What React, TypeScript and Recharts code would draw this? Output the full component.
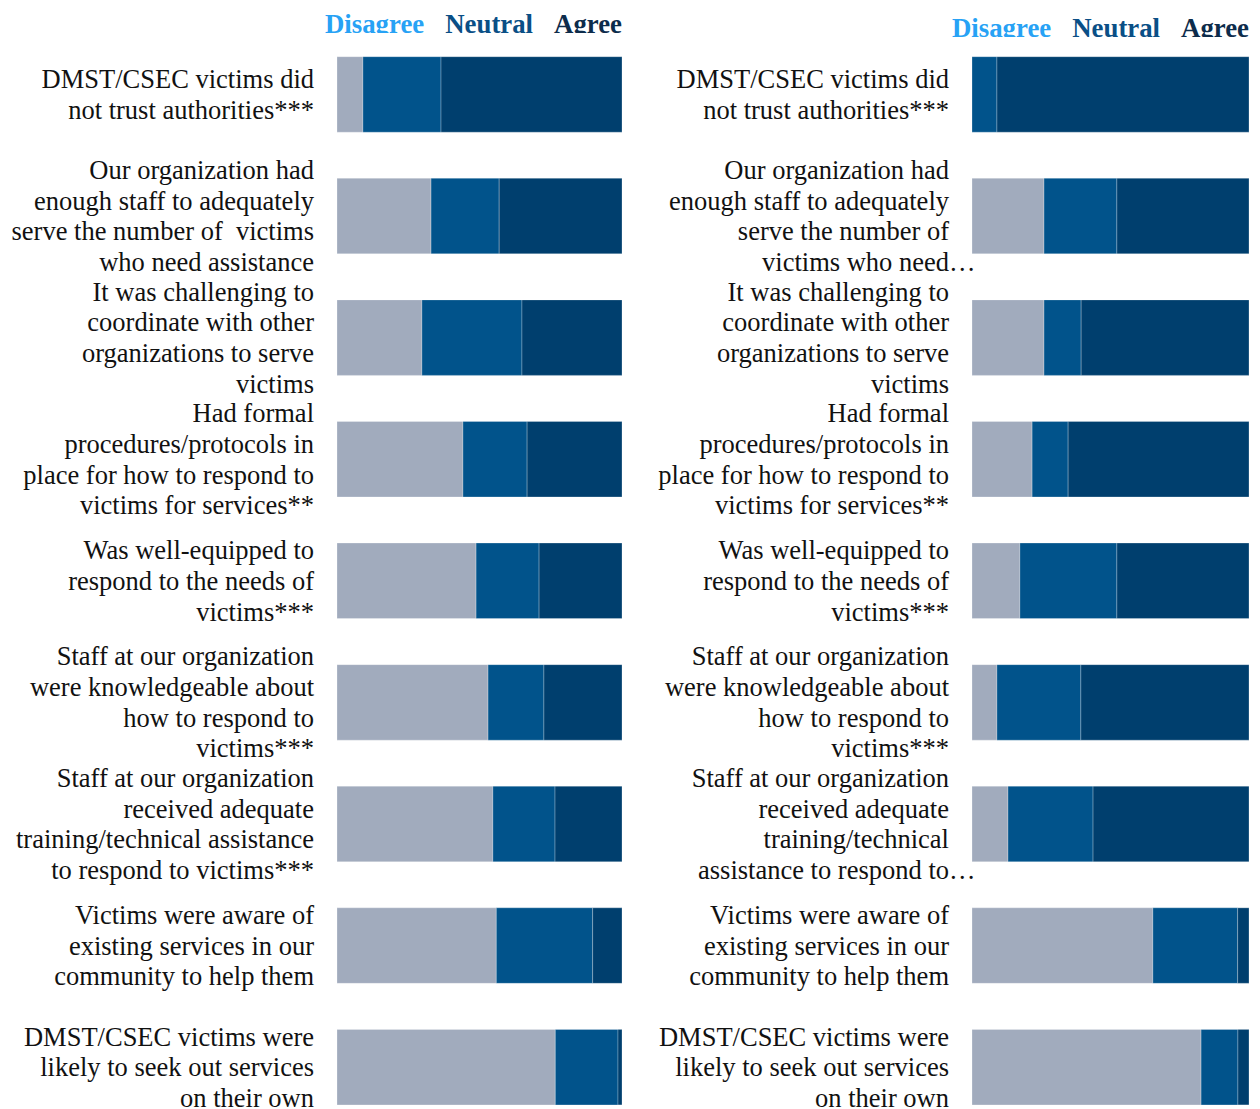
import React from "react";
import { BarChart, Bar, XAxis, YAxis } from "recharts";

// survey statements, one entry per bar; "\n" marks the line breaks of the original labels
const leftLabels = [
  "DMST/CSEC victims did\nnot trust authorities***",
  "Our organization had\nenough staff to adequately\nserve the number of  victims\nwho need assistance",
  "It was challenging to\ncoordinate with other\norganizations to serve\nvictims",
  "Had formal\nprocedures/protocols in\nplace for how to respond to\nvictims for services**",
  "Was well-equipped to\nrespond to the needs of\nvictims***",
  "Staff at our organization\nwere knowledgeable about\nhow to respond to\nvictims***",
  "Staff at our organization\nreceived adequate\ntraining/technical assistance\nto respond to victims***",
  "Victims were aware of\nexisting services in our\ncommunity to help them",
  "DMST/CSEC victims were\nlikely to seek out services\non their own",
];

const rightLabels = [
  "DMST/CSEC victims did\nnot trust authorities***",
  "Our organization had\nenough staff to adequately\nserve the number of\nvictims who need…",
  "It was challenging to\ncoordinate with other\norganizations to serve\nvictims",
  "Had formal\nprocedures/protocols in\nplace for how to respond to\nvictims for services**",
  "Was well-equipped to\nrespond to the needs of\nvictims***",
  "Staff at our organization\nwere knowledgeable about\nhow to respond to\nvictims***",
  "Staff at our organization\nreceived adequate\ntraining/technical\nassistance to respond to…",
  "Victims were aware of\nexisting services in our\ncommunity to help them",
  "DMST/CSEC victims were\nlikely to seek out services\non their own",
];

// percentages
const leftDisagree = [9.1, 33.0, 29.8, 44.2, 48.8, 53.0, 54.7, 55.9, 76.6];
const leftNeutral = [27.4, 23.9, 35.1, 22.5, 22.1, 19.6, 21.8, 33.8, 22.0];
const leftAgree = [63.5, 43.1, 35.1, 33.3, 29.1, 27.4, 23.5, 10.3, 1.4];

const rightDisagree = [0, 26.0, 26.0, 21.7, 17.3, 9.0, 13.0, 65.3, 82.7];
const rightNeutral = [9.0, 26.3, 13.4, 13.0, 35.0, 30.3, 30.7, 30.6, 13.3];
const rightAgree = [91.0, 47.7, 60.6, 65.3, 47.7, 60.7, 56.3, 4.1, 4.0];

const seriesNames = ["Disagree", "Neutral", "Agree"];
const barColors = ["#a1abbd", "#01538b", "#003f6e"];
const legendColors = ["#27a2f5", "#0a4f86", "#0d2c4b"];

const FONT = '"Liberation Serif", "Times New Roman", Times, serif';

function buildRows(labels: string[], d: number[], n: number[], a: number[]) {
  return labels.map((label, i) => ({
    label,
    disagree: d[i],
    neutral: n[i],
    agree: a[i],
  }));
}

const textStyle = { fontFamily: FONT, fontSize: 26.5, whiteSpace: "pre" as const };

const LabelTick = (props: any) => {
  const { x, y, payload } = props;
  const lines: string[] = String(payload.value).split("\n");
  const lh = 30.7;
  const y0 = y - ((lines.length - 1) * lh) / 2;
  const ax = x - 23;
  return (
    <g>
      {lines.map((line, i) => {
        const ell = line.endsWith("…");
        const txt = ell ? line.slice(0, -1) : line;
        return (
          <g key={i}>
            <text
              x={ax}
              y={y0 + i * lh}
              textAnchor="end"
              dominantBaseline="central"
              fill="#111"
              style={textStyle}
            >
              {txt}
            </text>
            {ell && (
              <text
                x={ax}
                y={y0 + i * lh}
                textAnchor="start"
                dominantBaseline="central"
                fill="#111"
                style={textStyle}
              >
                …
              </text>
            )}
          </g>
        );
      })}
    </g>
  );
};

function Panel({
  rows,
  width,
  axisWidth,
  right,
}: {
  rows: any[];
  width: number;
  axisWidth: number;
  right: number;
}) {
  return (
    <BarChart
      width={width}
      height={1140}
      data={rows}
      layout="vertical"
      margin={{ top: 33.7, right, bottom: 12, left: 0 }}
    >
      <XAxis type="number" domain={[0, 100]} hide allowDataOverflow />
      <YAxis
        type="category"
        dataKey="label"
        width={axisWidth}
        axisLine={false}
        tickLine={false}
        tickSize={0}
        tickMargin={0}
        interval={0}
        tick={<LabelTick />}
      />
      {["disagree", "neutral", "agree"].map((k, i) => (
        <Bar
          key={k}
          dataKey={k}
          name={seriesNames[i]}
          stackId="s"
          fill={barColors[i]}
          stroke="#ffffff"
          strokeOpacity={0.25}
          strokeWidth={1}
          barSize={75.5}
          isAnimationActive={false}
        />
      ))}
    </BarChart>
  );
}

function LegendRow({ rightEdge, baseline }: { rightEdge: number; baseline: number }) {
  return (
    <div
      style={{
        position: "absolute",
        left: 0,
        top: 0,
        width: rightEdge,
        height: baseline,
        overflow: "hidden",
        display: "flex",
        justifyContent: "flex-end",
        alignItems: "flex-start",
        gap: 21,
        paddingTop: baseline - 22,
        boxSizing: "border-box",
        fontFamily: FONT,
        fontWeight: "bold",
        fontSize: 26.8,
        lineHeight: 1,
      }}
    >
      {seriesNames.map((s, i) => (
        <span key={s} style={{ color: legendColors[i] }}>
          {s}
        </span>
      ))}
    </div>
  );
}

export default function App() {
  const leftRows = buildRows(leftLabels, leftDisagree, leftNeutral, leftAgree);
  const rightRows = buildRows(rightLabels, rightDisagree, rightNeutral, rightAgree);
  return (
    <div
      style={{
        position: "absolute",
        left: 0,
        top: 0,
        width: 1260,
        height: 1109,
        overflow: "hidden",
        background: "#fff",
      }}
    >
      <div style={{ position: "absolute", left: 0, top: 0 }}>
        <Panel rows={leftRows} width={640} axisWidth={337} right={18} />
      </div>
      <div style={{ position: "absolute", left: 640, top: 0 }}>
        <Panel rows={rightRows} width={620} axisWidth={332} right={11} />
      </div>
      <LegendRow rightEdge={622} baseline={33} />
      <div style={{ position: "absolute", left: 640, top: 0 }}>
        <LegendRow rightEdge={609} baseline={37} />
      </div>
    </div>
  );
}
